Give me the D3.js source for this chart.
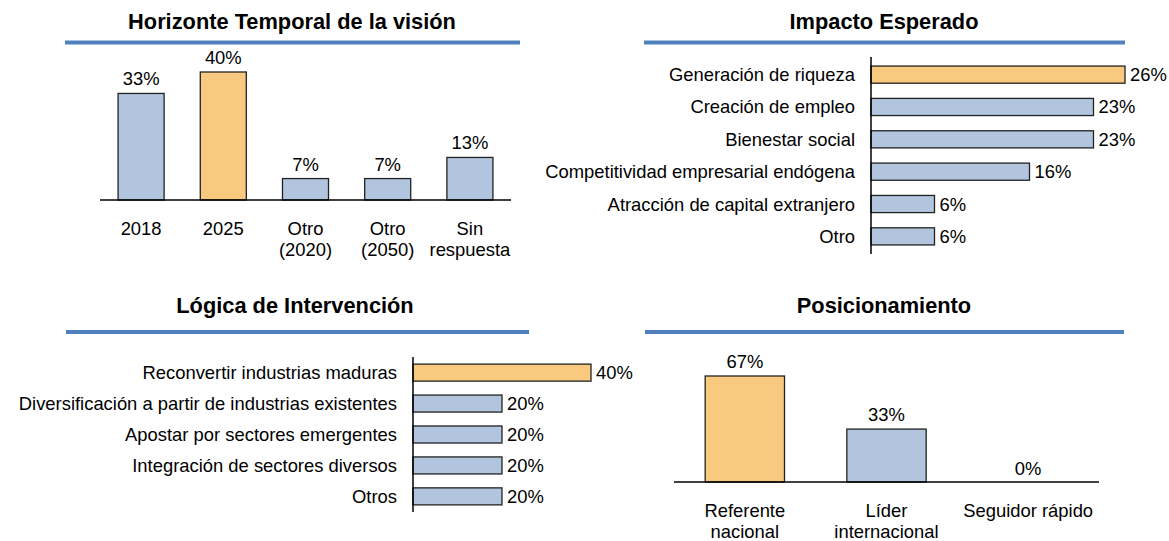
<!DOCTYPE html>
<html>
<head>
<meta charset="utf-8">
<script src="https://cdn.jsdelivr.net/npm/d3@7"></script>
<style>
    body { margin: 0; background: #fff; }
    svg { display: block; font-family: Arial, 'Liberation Sans', Helvetica, sans-serif; }
</style>
</head>
<body>
<div id="chart"></div>
<script>
// --- data ---
var horizonteCats = ['2018', '2025', 'Otro\n(2020)', 'Otro\n(2050)', 'Sin\nrespuesta'];
var horizonteVals = [33.3, 40, 6.7, 6.7, 13.3];

var impactoCats = ['Generación de riqueza', 'Creación de empleo', 'Bienestar social',
    'Competitividad empresarial endógena', 'Atracción de capital extranjero', 'Otro'];
var impactoVals = [25.8, 22.6, 22.6, 16.1, 6.45, 6.45];

var logicaCats = ['Reconvertir industrias maduras', 'Diversificación a partir de industrias existentes',
    'Apostar por sectores emergentes', 'Integración de sectores diversos', 'Otros'];
var logicaVals = [40, 20, 20, 20, 20];

var posicionCats = ['Referente\nnacional', 'Líder\ninternacional', 'Seguidor rápido'];
var posicionVals = [66.7, 33.3, 0];

var colorMain = '#f9c97f';
var colorRest = '#b1c5de';
var colorRule = '#4f81bd';

var labelSize = '18.4px';
var titleSize = '21.8px';

var svg = d3.select('#chart')
    .append('svg')
    .attr('width', 1169)
    .attr('height', 541);

function pct(v){
    return Math.round(v) + '%';
}

function header(title, cx, baseline, x0, x1, ruleY){
    svg.append('text')
        .attr('x', cx)
        .attr('y', baseline)
        .attr('text-anchor', 'middle')
        .style('font-size', titleSize)
        .style('font-weight', 'bold')
        .style('fill', '#000')
        .text(title);

    svg.append('line')
        .attr('x1', x0)
        .attr('x2', x1)
        .attr('y1', ruleY)
        .attr('y2', ruleY)
        .style('stroke', colorRule)
        .style('stroke-width', 4);
}

// columns standing on a baseline
function columnChart(cats, vals, opt){
    var x = d3.scaleBand()
        .domain(cats)
        .range([opt.left, opt.right])
        .paddingInner(0.44)
        .paddingOuter(0.22);

    var y = d3.scaleLinear()
        .domain([0, opt.max])
        .range([opt.base, opt.top]);

    var rows = cats.map(function(c, i){ return {cat: c, val: vals[i], i: i}; });

    var g = svg.append('g');

    g.selectAll('rect')
        .data(rows.filter(function(d){ return d.val > 0; }))
        .enter()
        .append('rect')
        .attr('x', function(d){ return x(d.cat); })
        .attr('y', function(d){ return y(d.val); })
        .attr('width', x.bandwidth())
        .attr('height', function(d){ return y(0) - y(d.val); })
        .style('fill', function(d){ return d.i === opt.hi ? colorMain : colorRest; })
        .style('stroke', '#222')
        .style('stroke-width', 1.3);

    g.selectAll('.val')
        .data(rows)
        .enter()
        .append('text')
        .attr('class', 'val')
        .attr('x', function(d){ return x(d.cat) + x.bandwidth() / 2; })
        .attr('y', function(d){ return y(d.val) - (d.val > 0 ? 8 : 7); })
        .attr('text-anchor', 'middle')
        .style('font-size', labelSize)
        .style('fill', '#000')
        .text(function(d){ return pct(d.val); });

    g.append('line')
        .attr('x1', opt.left)
        .attr('x2', opt.right)
        .attr('y1', opt.base)
        .attr('y2', opt.base)
        .style('stroke', '#000')
        .style('stroke-width', 1.5);

    g.selectAll('.cat')
        .data(cats)
        .enter()
        .append('text')
        .attr('class', 'cat')
        .attr('text-anchor', 'middle')
        .style('font-size', labelSize)
        .style('fill', '#000')
        .each(function(c){
            var t = d3.select(this);
            c.split('\n').forEach(function(line, k){
                t.append('tspan')
                    .attr('x', x(c) + x.bandwidth() / 2)
                    .attr('y', opt.base + 35 + k * 21)
                    .text(line);
            });
        });
}

// horizontal bars from a vertical axis
function barChart(cats, vals, opt){
    var y = d3.scaleBand()
        .domain(cats)
        .range([opt.top, opt.bottom])
        .paddingInner(opt.padIn)
        .paddingOuter(opt.padOut);

    var x = d3.scaleLinear()
        .domain([0, opt.max])
        .range([opt.axis, opt.right]);

    var g = svg.append('g');

    g.selectAll('rect')
        .data(vals)
        .enter()
        .append('rect')
        .attr('x', x(0))
        .attr('y', function(d, i){ return y(cats[i]); })
        .attr('width', function(d){ return x(d) - x(0); })
        .attr('height', y.bandwidth())
        .style('fill', function(d, i){ return i === opt.hi ? colorMain : colorRest; })
        .style('stroke', '#222')
        .style('stroke-width', 1.3);

    g.selectAll('.val')
        .data(vals)
        .enter()
        .append('text')
        .attr('class', 'val')
        .attr('x', function(d){ return x(d) + 5; })
        .attr('y', function(d, i){ return y(cats[i]) + y.bandwidth() / 2 + 6.5; })
        .style('font-size', labelSize)
        .style('fill', '#000')
        .text(pct);

    g.selectAll('.cat')
        .data(cats)
        .enter()
        .append('text')
        .attr('class', 'cat')
        .attr('x', opt.axis - 16)
        .attr('y', function(c){ return y(c) + y.bandwidth() / 2 + 6.5; })
        .attr('text-anchor', 'end')
        .style('font-size', labelSize)
        .style('fill', '#000')
        .text(function(c){ return c; });

    g.append('line')
        .attr('x1', opt.axis)
        .attr('x2', opt.axis)
        .attr('y1', opt.top)
        .attr('y2', opt.bottom)
        .style('stroke', '#000')
        .style('stroke-width', 1.5);
}

header('Horizonte Temporal de la visión', 292, 29, 65, 520, 42.5);
columnChart(horizonteCats, horizonteVals, {left: 100, right: 511, base: 200, top: 72, max: 40, hi: 1});

header('Impacto Esperado', 884, 29, 644, 1125, 42.5);
barChart(impactoCats, impactoVals, {axis: 871, right: 1125, top: 57, bottom: 254, max: 25.8, padIn: 0.47, padOut: 0.28, hi: 0});

header('Lógica de Intervención', 295, 313, 66, 529, 332);
barChart(logicaCats, logicaVals, {axis: 413, right: 591, top: 357, bottom: 512, max: 40, padIn: 0.45, padOut: 0.23, hi: 0});

header('Posicionamiento', 884, 313, 645, 1124, 332);
columnChart(posicionCats, posicionVals, {left: 674, right: 1099, base: 482, top: 376, max: 66.7, hi: 0});
</script>
</body>
</html>
